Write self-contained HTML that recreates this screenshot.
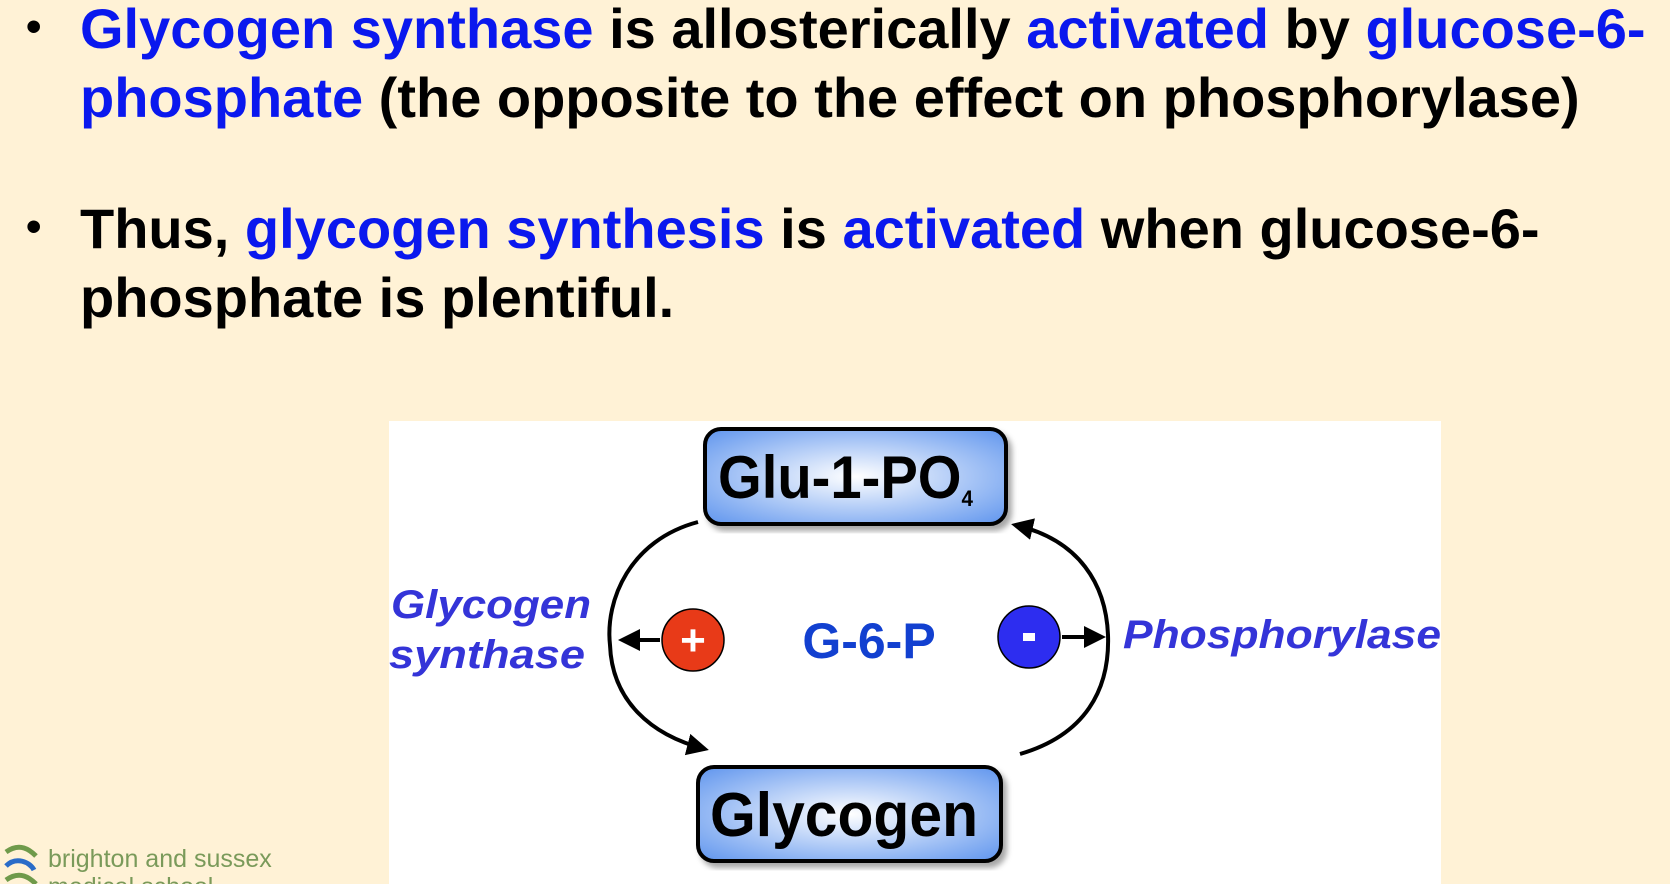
<!DOCTYPE html>
<html><head><meta charset="utf-8"><style>
body{margin:0;width:1670px;height:884px;background:#fff2d6;position:relative;overflow:hidden;font-family:"Liberation Sans",sans-serif}
.t{position:absolute;left:80px;font-weight:bold;font-size:56px;line-height:69px;color:#000;white-space:nowrap}
.b{color:#0a18ee}
.dot{position:absolute;left:26px;font-size:44px;font-weight:bold}
</style></head><body>
<div class="dot" style="top:2px">•</div>
<div class="t" style="top:-6px"><span class="b">Glycogen synthase</span> is allosterically <span class="b">activated</span> by <span class="b">glucose-6-</span><br><span class="b">phosphate</span> (the opposite to the effect on phosphorylase)</div>
<div class="dot" style="top:202px">•</div>
<div class="t" style="top:194px">Thus, <span class="b">glycogen synthesis</span> is <span class="b">activated</span> when glucose-6-<br>phosphate is plentiful.</div>
<svg style="position:absolute;left:0;top:0" width="1670" height="884">
<defs>
<radialGradient id="g" cx="0.5" cy="0.5" r="0.7"><stop offset="0" stop-color="#ffffff"/><stop offset="1" stop-color="#5f95ee"/></radialGradient>
<marker id="a2" markerWidth="22" markerHeight="22" refX="18" refY="11" orient="auto" markerUnits="userSpaceOnUse"><path d="M0,0 L22,11 L0,22 z" fill="#000"/></marker>
<filter id="s"><feDropShadow dx="4" dy="5" stdDeviation="3" flood-opacity="0.35"/></filter>
</defs>
<rect x="389" y="421" width="1052" height="463" fill="#fff"/>
<rect x="705" y="429" width="301" height="95" rx="16" fill="url(#g)" stroke="#000" stroke-width="4" filter="url(#s)"/>
<rect x="698" y="767" width="303" height="94" rx="16" fill="url(#g)" stroke="#000" stroke-width="4" filter="url(#s)"/>
<text x="718" y="498" font-family="Liberation Sans" font-weight="bold" font-size="60" textLength="255" lengthAdjust="spacingAndGlyphs">Glu-1-PO<tspan font-size="22" dy="8">4</tspan></text>
<text x="710" y="836" font-family="Liberation Sans" font-weight="bold" font-size="62" textLength="268" lengthAdjust="spacingAndGlyphs">Glycogen</text>
<path d="M698,522 C630,540 605,600 610,645 C612,700 650,735 705,749" fill="none" stroke="#000" stroke-width="4" marker-end="url(#a2)"/>
<path d="M1020,754 C1085,735 1110,690 1108,635 C1106,585 1080,540 1015,525" fill="none" stroke="#000" stroke-width="4" marker-end="url(#a2)"/>
<line x1="660" y1="640" x2="622" y2="640" stroke="#000" stroke-width="4" marker-end="url(#a2)"/>
<line x1="1062" y1="637" x2="1102" y2="637" stroke="#000" stroke-width="4" marker-end="url(#a2)"/>
<circle cx="693" cy="640" r="31" fill="#e83a18" stroke="#000" stroke-width="1.5"/>
<text x="693" y="655" text-anchor="middle" fill="#fff" font-family="Liberation Sans" font-weight="bold" font-size="44">+</text>
<circle cx="1029" cy="637" r="31" fill="#2d2df0" stroke="#000" stroke-width="1.5"/>
<rect x="1023" y="633" width="12" height="8" fill="#fff"/>
<text x="869" y="658" text-anchor="middle" fill="#1240d0" font-family="Liberation Sans" font-weight="bold" font-size="50">G-6-P</text>
<g font-family="Liberation Sans" font-weight="bold" font-style="italic" font-size="40" fill="#3434d8">
<text x="391" y="618" textLength="200" lengthAdjust="spacingAndGlyphs">Glycogen</text>
<text x="389" y="668" textLength="196" lengthAdjust="spacingAndGlyphs">synthase</text>
<text x="1123" y="648" textLength="318" lengthAdjust="spacingAndGlyphs">Phosphorylase</text>
</g>
<path d="M6,852 C20,842 30,850 36,856" stroke="#6f9a4a" stroke-width="5" fill="none"/>
<path d="M6,866 C16,856 30,862 34,870" stroke="#2a6cc8" stroke-width="5" fill="none"/>
<path d="M6,880 C20,870 30,878 36,884" stroke="#6f9a4a" stroke-width="5" fill="none"/>
<text x="48" y="867" font-family="Liberation Sans" font-size="25" fill="#7a9a5a">brighton and sussex</text>
<text x="48" y="895" font-family="Liberation Sans" font-size="25" fill="#7a9a5a">medical school</text>
</svg>
</body></html>
